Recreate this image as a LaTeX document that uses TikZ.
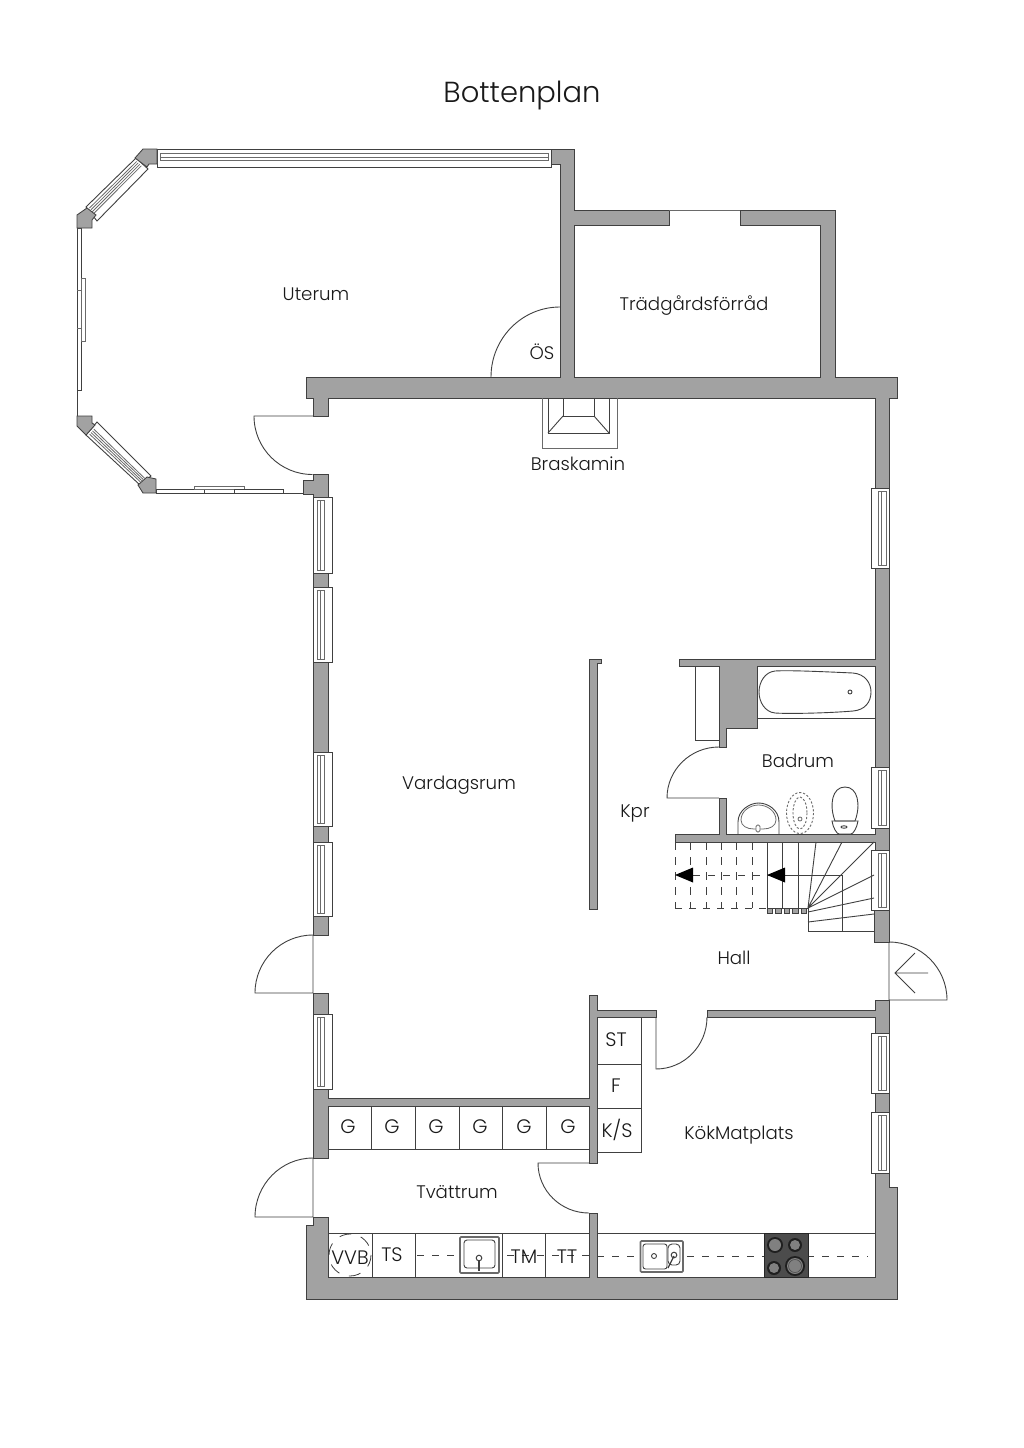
\documentclass[tikz,border=0pt]{standalone}
\usepackage{fontspec}
\setmainfont{Poppins Light}
\usetikzlibrary{calc}
\definecolor{wallgray}{HTML}{A2A2A2}
\definecolor{linedark}{HTML}{404040}
\definecolor{linemid}{HTML}{6A6A6A}
\tikzset{
  wallshape/.style={fill=wallgray,draw=linedark,line width=0.85pt,line join=miter},
  thin line/.style={draw=linedark,line width=0.9pt},
  mid line/.style={draw=linemid,line width=0.8pt},
  dash line/.style={draw=linedark,line width=0.8pt,dash pattern=on 7pt off 8pt},
  dot line/.style={draw=linemid,line width=0.9pt,dash pattern=on 2.2pt off 1.8pt},
  room/.style={inner sep=0pt,font=\fontsize{18.2}{22}\selectfont,text=black!90},
  cell/.style={inner sep=0pt,font=\fontsize{19.5}{22}\selectfont,text=black!90},
}
\newcommand{\vwin}[6]{%
  \draw[thin line,fill=white] (#1,#5) rectangle (#2,#6);
  \draw[mid line] (#3,#5+3) rectangle (#4,#6-3);
  \draw[mid line] ({#3+3},#5+3) -- ({#3+3},#6-3);
}
\newcommand{\diagwin}[4]{%
  \draw[thin line,fill=white] (#1) -- (#2) -- (#3) -- (#4) -- cycle;
  \foreach \f in {0.18,0.31,0.44,0.57}{
    \draw[mid line] ($($(#1)!\f!(#4)$)!0.03!($(#2)!\f!(#3)$)$) -- ($($(#1)!\f!(#4)$)!0.97!($(#2)!\f!(#3)$)$);
  }
}
\begin{document}
\begin{tikzpicture}[x=1pt,y=-1pt]
\useasboundingbox[fill=white] (0,0) rectangle (1024,1448);

%% Uterum bay windows
\draw[thin line,fill=white] (157,149) rectangle (551,167);
\draw[mid line] (160,153) rectangle (548,160);
\draw[mid line] (160,157) -- (548,157);
\diagwin{86,207}{136,158}{148,169}{97,221}
\diagwin{86,435}{140,485}{151,476}{97,422}
\draw[thin line,fill=white] (77,228) rectangle (81.5,390);
\draw[mid line] (81.5,278) rectangle (85,341);
\draw[mid line] (77,290) -- (81.5,290) (77,328) -- (81.5,328);
\draw[thin line] (77,390) -- (77,416);
\draw[thin line] (156,493) -- (303,493);
\draw[thin line,fill=white] (156,489) rectangle (204,493);
\draw[mid line,fill=white] (194,486) rectangle (244,489);
\draw[thin line,fill=white] (234,489) rectangle (283,493);

%% Bay corner pieces
\draw[wallshape] (143,149) -- (157,149) -- (157,164) -- (149,164) -- (147,167) -- (135,158) -- cycle;
\draw[wallshape] (87,208) -- (96,215) -- (92,220) -- (92,228) -- (77,228) -- (77,215) -- cycle;
\draw[wallshape] (77,416) -- (92,416) -- (92,423) -- (95,425) -- (86,435) -- (77,426) -- cycle;
\draw[wallshape] (147,477) -- (156,479) -- (156,493) -- (143,493) -- (138,485) -- cycle;

%% West and east windows
\vwin{313}{332}{317}{324}{497}{573}
\vwin{313}{332}{317}{324}{587}{662}
\vwin{313}{332}{317}{324}{752}{826}
\vwin{313}{332}{317}{324}{842}{916}
\vwin{313}{332}{317}{324}{1014}{1089}
\vwin{871}{889}{878}{886}{488}{568}
\vwin{871}{889}{878}{886}{767}{828}
\vwin{871}{889}{878}{886}{850}{910}
\vwin{871}{889}{878}{886}{1033}{1093}
\vwin{871}{889}{878}{886}{1112}{1173}

%% Walls
\draw[wallshape] (551,149) -- (574,149) -- (574,210) -- (669,210) -- (669,225) -- (574,225) -- (574,377)
  -- (820,377) -- (820,225) -- (740,225) -- (740,210) -- (835,210) -- (835,377) -- (897,377) -- (897,398)
  -- (889,398) -- (889,488) -- (875,488) -- (875,398) -- (328,398) -- (328,416) -- (313,416) -- (313,398)
  -- (306,398) -- (306,377) -- (560,377) -- (560,164) -- (551,164) -- cycle;
\draw[mid line] (669,210) -- (740,210);
\draw[wallshape] (313,474) -- (328,474) -- (328,497) -- (313,497) -- (313,494) -- (303,494) -- (303,480) -- (313,480) -- cycle;
\draw[wallshape] (313,573) rectangle (328,587);
\draw[wallshape] (313,662) rectangle (328,752);
\draw[wallshape] (313,826) rectangle (328,842);
\draw[wallshape] (313,916) rectangle (328,935);
\draw[wallshape] (313,993) rectangle (328,1014);
\draw[wallshape] (313,1089) -- (328,1089) -- (328,1098) -- (589,1098) -- (589,995) -- (597,995) -- (597,1010)
  -- (656,1010) -- (656,1017) -- (597,1017) -- (597,1163) -- (589,1163) -- (589,1106) -- (328,1106)
  -- (328,1158) -- (313,1158) -- cycle;
\draw[wallshape] (313,1217) -- (328,1217) -- (328,1277) -- (589,1277) -- (589,1213) -- (597,1213) -- (597,1277)
  -- (875,1277) -- (875,1173) -- (889,1173) -- (889,1187) -- (897,1187) -- (897,1299) -- (306,1299) -- (306,1225) -- (313,1225) -- cycle;
\draw[wallshape] (875,1112) rectangle (889,1093);
\draw[wallshape] (707,1010) -- (875,1010) -- (875,1000) -- (889,1000) -- (889,1033) -- (875,1033) -- (875,1017) -- (707,1017) -- cycle;
\draw[wallshape] (874,910) rectangle (889,942);
\draw[wallshape] (675,834) -- (719,834) -- (719,798) -- (726,798) -- (726,834) -- (875,834) -- (875,828) -- (889,828) -- (889,850) -- (875,850) -- (875,842) -- (675,842) -- cycle;
\draw[wallshape] (679,659) -- (875,659) -- (875,568) -- (889,568) -- (889,767) -- (875,767) -- (875,666) -- (757,666) -- (757,728)
  -- (726,728) -- (726,747) -- (719,747) -- (719,666) -- (679,666) -- cycle;
\draw[wallshape] (589,659) -- (601,659) -- (601,663) -- (597,663) -- (597,909) -- (589,909) -- cycle;

%% Doors
\draw[thin line] (313,416) -- (254,416) arc[start angle=180,end angle=90,radius=58.5];
\draw[thin line] (560,307) arc[start angle=-90,end angle=-180,x radius=69,y radius=70];
\draw[thin line] (313,935) -- (313,993) -- (255,993) arc[start angle=180,end angle=270,radius=58];
\draw[thin line] (313,1158) -- (313,1217) -- (255,1217) arc[start angle=180,end angle=270,x radius=58,y radius=59];
\draw[thin line] (889,942) -- (889,1000) -- (947,1000) arc[start angle=0,end angle=-90,radius=58];
\draw[thin line] (928,973) -- (895,973) (915,953) -- (895,973) -- (915,993);
\draw[thin line] (719,747) arc[start angle=270,end angle=180,x radius=52,y radius=51] -- (719,798);
\draw[thin line] (656,1017) -- (656,1069) arc[start angle=90,end angle=0,x radius=51,y radius=52];
\draw[thin line] (589,1163) -- (538,1163) arc[start angle=180,end angle=90,x radius=51,y radius=50];

%% Fireplace
\draw[mid line] (542,398) -- (542,448) -- (617,448) -- (617,398);
\draw[thin line] (548,398) -- (548,433) -- (609,433) -- (609,398);
\draw[thin line] (563,398) -- (563,416) -- (594,416) -- (594,398);
\draw[thin line] (563,416) -- (548,433) (594,416) -- (609,433);

%% Bathroom
\draw[thin line] (695,666) -- (695,740) -- (719,740);
\draw[thin line] (757,718) -- (875,718);
\draw[thin line] (775,671) .. controls (790,670) and (830,672) .. (853,673) .. controls (865,674) and (871,683) .. (871,692)
  .. controls (871,702) and (865,710) .. (853,711) .. controls (830,713) and (790,714) .. (775,713)
  .. controls (765,712) and (759,702) .. (759,692) .. controls (759,682) and (765,672) .. (775,671) -- cycle;
\draw[thin line] (850,692) circle[radius=2];
\draw[thin line] (738,834) -- (738,822) .. controls (738,810) and (750,803) .. (758.5,803) .. controls (768,803) and (779,810) .. (779,822) -- (779,834);
\draw[mid line] (741,820) .. controls (741,811) and (750,805) .. (758.5,805) .. controls (767,805) and (776,811) .. (776,820)
  .. controls (776,826) and (770,829) .. (763,829) -- (754,829) .. controls (747,829) and (741,826) .. (741,820) -- cycle;
\draw[mid line,fill=white,rounded corners=1.5pt] (756,825) rectangle (760,832);
\draw[dot line] (800,813) ellipse[x radius=13.5,y radius=20.5];
\draw[dot line] (800,813) ellipse[x radius=7,y radius=16];
\draw[mid line] (800,819) circle[radius=2];
\draw[thin line] (835,821) .. controls (829,805) and (832,787) .. (845,787) .. controls (858,787) and (861,805) .. (855,821) -- cycle;
\draw[thin line] (832,821) -- (858,821) .. controls (857,828) and (853,834) .. (851,834) -- (839,834) .. controls (837,834) and (833,828) .. (832,821) -- cycle;
\draw[thin line] (844,827) ellipse[x radius=3,y radius=1.2];

%% Stairs
\foreach \x in {675,690,706,721,736,752}{\draw[dash line,dash pattern=on 8pt off 7pt] (\x,842) -- (\x,908);}
\draw[dash line] (693,875) -- (767,875);
\draw[dash line,dash pattern=on 7pt off 7pt] (675,908) -- (767,908);
\foreach \x in {767,782,798}{\draw[thin line] (\x,842) -- (\x,908);}
\draw[thin line] (767,908) -- (808,908);
\draw[thin line] (808,908) -- (816,842) (808,908) -- (842,842) (808,908) -- (874,842) (808,908) -- (874,875);
\draw[thin line] (808,912) -- (874,898) (808,922) -- (874,914);
\draw[thin line] (808,908) -- (808,931) -- (874,931);
\draw[thin line] (767,875) -- (842,875) -- (842,931);
\fill[black] (767,875) -- (785,867.5) -- (785,882.5) -- cycle;
\fill[black] (675,875) -- (693,867.5) -- (693,882.5) -- cycle;
\foreach \x in {767,775.5,784,792.5,801}{\draw[wallshape,line width=0.8pt] (\x,908) rectangle ++(5.5,5);}

%% Kitchen units
\draw[thin line] (597,1017) -- (641,1017) -- (641,1152) -- (597,1152);
\draw[thin line] (597,1064) -- (641,1064) (597,1108) -- (641,1108);
\draw[thin line] (597,1233) -- (875,1233);
\draw[dash line] (597,1256) -- (868,1256);
\draw[mid line,fill=white,line width=1.6pt,rounded corners=1pt] (640.5,1241) rectangle (683,1272);
\draw[thin line,rounded corners=2.5pt] (643,1244) rectangle (667,1269);
\draw[thin line,rounded corners=4pt] (668,1244) rectangle (680,1265);
\draw[thin line] (654,1256) circle[radius=2.5];
\draw[line width=1pt,draw=linedark] (674,1255) circle[radius=2.8];
\draw[line width=1.2pt,draw=linedark] (674,1256) -- (668,1268);
\fill[black!70] (764,1233) rectangle (808,1277);
\draw[draw=black!85,line width=0.8pt] (764,1233) rectangle (808,1277);
\foreach \cx/\cy/\r in {775/1245/8,795/1245/7,774/1268/7,795/1266/10}{
  \fill[black!88] (\cx,\cy) circle[radius=\r];
  \fill[black!50] (\cx,\cy) circle[radius=\r-2];
}
\draw[black!70,line width=0.6pt] (795,1266) circle[radius=6.5];

%% Laundry units
\draw[thin line] (328,1149) -- (589,1149);
\foreach \x in {371,415,459,502,546}{\draw[thin line] (\x,1106) -- (\x,1149);}
\draw[thin line] (328,1233) -- (589,1233);
\foreach \x in {372,415,502,545}{\draw[thin line] (\x,1233) -- (\x,1277);}
\draw[dash line] (417,1255) -- (589,1255);
\draw[dash line,dash pattern=on 12pt off 10pt] (350,1255) circle[radius=21];
\draw[mid line,fill=white,line width=1.6pt,rounded corners=1pt] (460,1237) rectangle (499,1273);
\draw[thin line,fill=white,rounded corners=3pt] (464,1240) rectangle (495,1268);
\draw[line width=1pt,draw=linedark] (479,1258) circle[radius=2.8];
\draw[line width=1.2pt,draw=linedark] (479,1261) -- (479,1271);

%% Labels
\node[inner sep=0pt,font=\fontsize{29}{34}\selectfont,text=black!90] (title) at (522,95.5) {Bottenplan};
\node[room] (uterum) at (316,294.5) {Uterum};
\node[room] (tradgard) at (694,306) {Trädgårdsförråd};
\node[room] (os) at (542,351.5) {ÖS};
\node[room] (braskamin) at (578,463.5) {Braskamin};
\node[room] (vardagsrum) at (459,785) {Vardagsrum};
\node[room] (kpr) at (635,813) {Kpr};
\node[room] (badrum) at (798,760.5) {Badrum};
\node[room] (hall) at (734,957.5) {Hall};
\node[room] (kok) at (739,1135) {KökMatplats};
\node[room] (tvatt) at (457,1192.5) {Tvättrum};
\node[cell] (st) at (616,1040) {ST};
\node[cell] (f) at (616,1086) {F};
\node[cell] (ks) at (617,1130) {K/S};
\node[cell] (g1) at (348,1127) {G};
\node[cell] (g2) at (392,1127) {G};
\node[cell] (g3) at (436,1127) {G};
\node[cell] (g4) at (480,1127) {G};
\node[cell] (g5) at (524,1127) {G};
\node[cell] (g6) at (568,1127) {G};
\node[cell] (vvb) at (350,1258) {VVB};
\node[cell] (ts) at (392,1255) {TS};
\node[cell] (tm) at (524,1257) {TM};
\node[cell] (tt) at (567,1257) {TT};
\end{tikzpicture}
\end{document}
